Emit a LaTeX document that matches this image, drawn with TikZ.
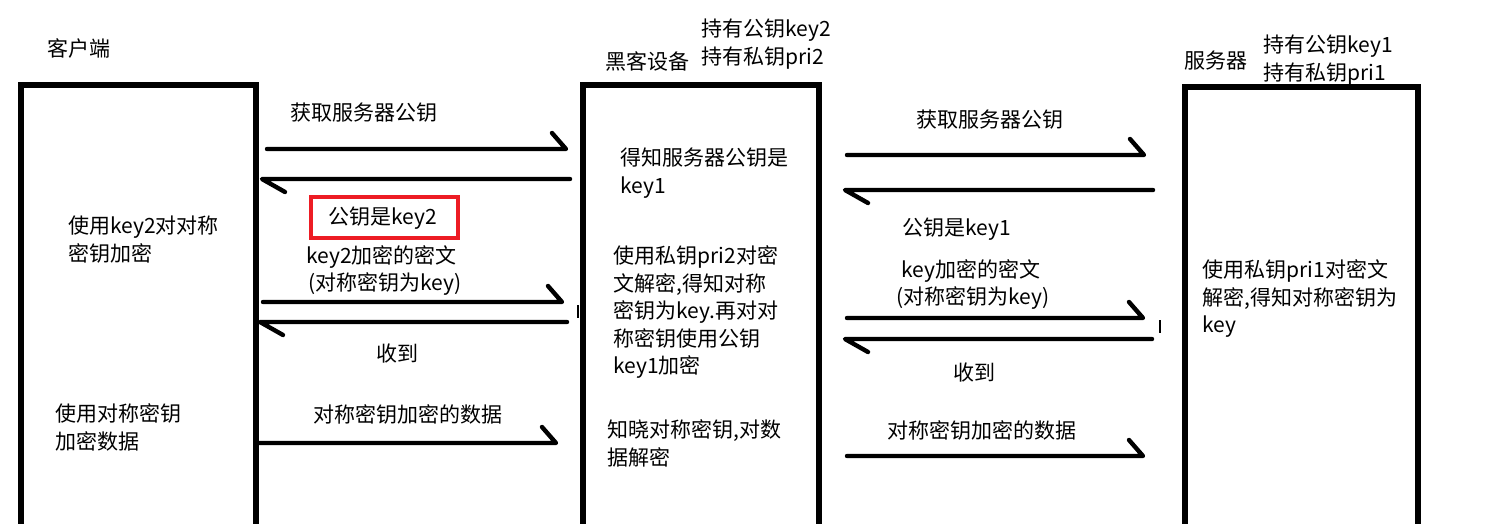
\documentclass[tikz,border=0pt]{standalone}
\usepackage{fontspec}
\setmainfont{Noto Sans CJK SC}
\definecolor{paintred}{RGB}{237,28,36}
\begin{document}
\begin{tikzpicture}[x=0.5pt,y=-0.5pt,
  lane/.style={draw=none,minimum width=#1,minimum height=230pt,anchor=north west,inner sep=0pt},
  wall/.style={line width=2.75pt,line join=miter},
  flow/.style={line width=2.2pt,line cap=round,line join=round},
  txt/.style={anchor=west,inner sep=0pt,font=\fontsize{10.5pt}{13.75pt}\selectfont},
  para/.style={anchor=north west,inner sep=0pt,align=left,font=\fontsize{10.5pt}{13.75pt}\selectfont},
  redbox/.style={draw=paintred,line width=1.6pt,minimum width=73.5pt,minimum height=20.5pt,inner sep=0pt},
  tick/.style={line width=0.6pt}]
\useasboundingbox (0,0) rectangle (1503,524);
\clip (0,0) rectangle (1503,524);

% lanes
\node[lane=117pt] (client) at (21,85) {};
\node[lane=117.5pt] (hacker) at (583,85) {};
\node[lane=116pt] (server) at (1185,87) {};
\foreach \n in {client,hacker,server}
  \draw[wall] (\n.south west) -- (\n.north west) -- (\n.north east) -- (\n.south east);

% headers
\node[txt] (tclient) at (47,48) {客户端};
\node[txt] (thacker) at (605,61) {黑客设备};
\node[para] (khacker) at (701,18.5) {持有公钥key2\\持有私钥pri2};
\node[txt] (tserver) at (1184,61) {服务器};
\node[para] (kserver) at (1263,34.5) {持有公钥key1\\持有私钥pri1};

% lane texts
\node[para] (c1) at (68,215.5) {使用key2对对称\\密钥加密};
\node[para] (c2) at (55,403.5) {使用对称密钥\\加密数据};
\node[para] (h1) at (620,147.5) {得知服务器公钥是\\key1};
\node[para] (h2) at (613,245.5) {使用私钥pri2对密\\文解密,得知对称\\密钥为key.再对对\\称密钥使用公钥\\key1加密};
\node[para] (h3) at (607,419.5) {知晓对称密钥,对数\\据解密};
\node[para] (s1) at (1202,259.5) {使用私钥pri1对密文\\解密,得知对称密钥为\\key};

% arrow end points
\coordinate (a1s) at (267,149);  \coordinate (a1e) at (566,149);
\coordinate (a2s) at (570,179);  \coordinate (a2e) at (262,179);
\coordinate (a3s) at (263,302);  \coordinate (a3e) at (562,302);
\coordinate (a4s) at (567,322);  \coordinate (a4e) at (260,322);
\coordinate (a5s) at (257,443);  \coordinate (a5e) at (556,443);
\coordinate (b1s) at (847,155);  \coordinate (b1e) at (1144,155);
\coordinate (b2s) at (1153,190); \coordinate (b2e) at (845,190);
\coordinate (b3s) at (847,318);  \coordinate (b3e) at (1143,318);
\coordinate (b4s) at (1152,339); \coordinate (b4e) at (845,339);
\coordinate (b5s) at (847,456);  \coordinate (b5e) at (1143,456);

% arrows (single barb)
\draw[flow] (a1s) -- (a1e) -- ++(-14,-16);
\draw[flow] (a2s) -- (a2e) -- ++(23,13);
\draw[flow] (a3s) -- (a3e) -- ++(-14,-16);
\draw[flow] (a4s) -- (a4e) -- ++(23,13);
\draw[flow] (a5s) -- (a5e) -- ++(-14,-16);
\draw[flow] (b1s) -- (b1e) -- ++(-14,-16);
\draw[flow] (b2s) -- (b2e) -- ++(23,13);
\draw[flow] (b3s) -- (b3e) -- ++(-14,-16);
\draw[flow] (b4s) -- (b4e) -- ++(23,13);
\draw[flow] (b5s) -- (b5e) -- ++(-14,-16);

% arrow labels
\node[txt] (l1) at (290,113) {获取服务器公钥};
\node[redbox] (l2box) at (384.5,217.5) {};
\node[txt] (l2) at (328,218) {公钥是key2};
\node[txt] (l3a) at (306,257) {key2加密的密文};
\node[txt] (l3b) at (308,284) {(对称密钥为key)};
\node[txt] (l4) at (376,354) {收到};
\node[txt] (l5) at (313,414) {对称密钥加密的数据};
\node[txt] (m1) at (916,120) {获取服务器公钥};
\node[txt] (m2) at (902,229) {公钥是key1};
\node[txt] (m3a) at (901,271) {key加密的密文};
\node[txt] (m3b) at (896,298) {(对称密钥为key)};
\node[txt] (m4) at (953,373) {收到};
\node[txt] (m5) at (887,430) {对称密钥加密的数据};

% small stray marks
\coordinate (t1a) at (578,305); \coordinate (t1b) at (578,318);
\coordinate (t2a) at (1160,320); \coordinate (t2b) at (1160,333);
\draw[tick] (t1a) -- (t1b);
\draw[tick] (t2a) -- (t2b);
\end{tikzpicture}
\end{document}
